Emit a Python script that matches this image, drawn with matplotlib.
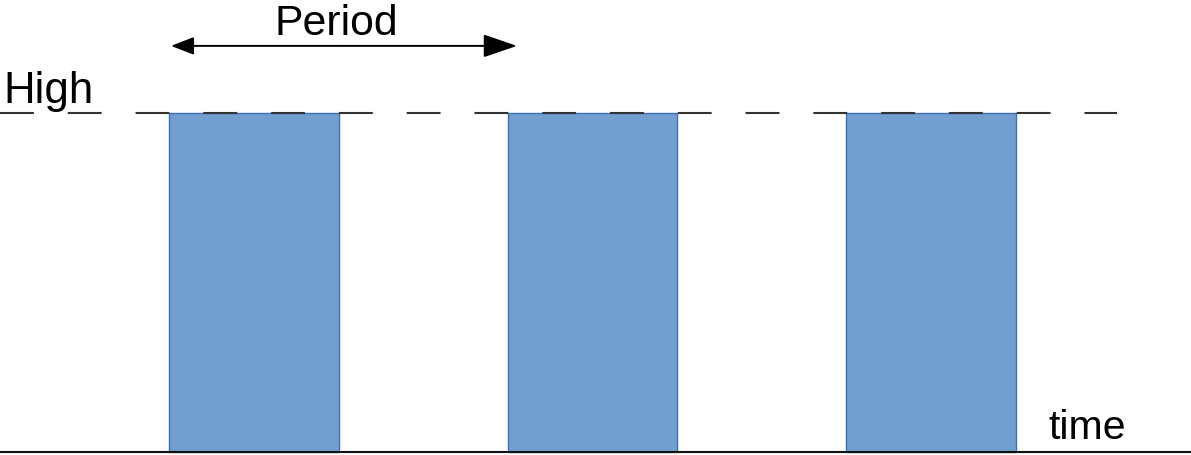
import matplotlib
matplotlib.use("Agg")
import matplotlib.pyplot as plt

# ── Data ───────────────────────────────────────────────────────────────────────
PULSE_STARTS = [0, 1, 2]          # start of each pulse, in periods
PULSE_WIDTH  = 0.5                # duty cycle 50 %
PULSE_HIGH   = [1, 1, 1]          # signal level of each pulse
HIGH_LEVEL   = 1
PERIOD_SPAN  = [0, 1]             # arrow from one pulse start to the next

# ── Style ──────────────────────────────────────────────────────────────────────
BAR_FILL  = "#729FCF"
BAR_EDGE  = "#3F6FB5"
LINE_DARK = "#333333"

plt.rcParams.update({
    "font.family": ["Liberation Sans", "DejaVu Sans"],
    "lines.scale_dashes": False,
})

fig = plt.figure(figsize=(11.91, 4.55), dpi=100)
ax = fig.add_axes([0, 0, 1, 1])
ax.set_xlim(-0.5, -0.5 + 1191 / 338.5)
ax.set_ylim(-3 / 339, 452 / 339)
ax.axis("off")

# pulses
ax.bar(PULSE_STARTS, PULSE_HIGH, width=PULSE_WIDTH, align="edge",
       color=BAR_FILL, edgecolor=BAR_EDGE, linewidth=1.0, zorder=1)

# "High" dashed reference line
ax.plot([-0.5, 2.8], [HIGH_LEVEL, HIGH_LEVEL], color=LINE_DARK,
        linewidth=1.5, dashes=(24.4, 24.4), zorder=3)

# time axis
ax.axhline(0, color="#111111", linewidth=1.5, zorder=4)

# period arrow (right head larger than the left, as in the original)
y_arr = 1.198
mid = sum(PERIOD_SPAN) / 2
ax.annotate("", xy=(PERIOD_SPAN[0] + 0.005, y_arr), xytext=(mid, y_arr),
            arrowprops=dict(arrowstyle="-|>,head_length=14,head_width=5.4",
                            mutation_scale=1, color="black", lw=1.4,
                            shrinkA=0, shrinkB=0))
ax.annotate("", xy=(PERIOD_SPAN[1] + 0.027, y_arr), xytext=(mid, y_arr),
            arrowprops=dict(arrowstyle="-|>,head_length=21,head_width=7.2",
                            mutation_scale=1, color="black", lw=1.4,
                            shrinkA=0, shrinkB=0))

ax.text(mid - 0.005, 1.230, "Period", fontsize=30.8, ha="center", va="baseline")
ax.text(-0.489, 1.0295, "High", fontsize=31.5, ha="left", va="baseline")
ax.text(2.597, 0.038, "time", fontsize=29.5, ha="left", va="baseline")

fig.savefig("out.png", dpi=100)
plt.close(fig)
